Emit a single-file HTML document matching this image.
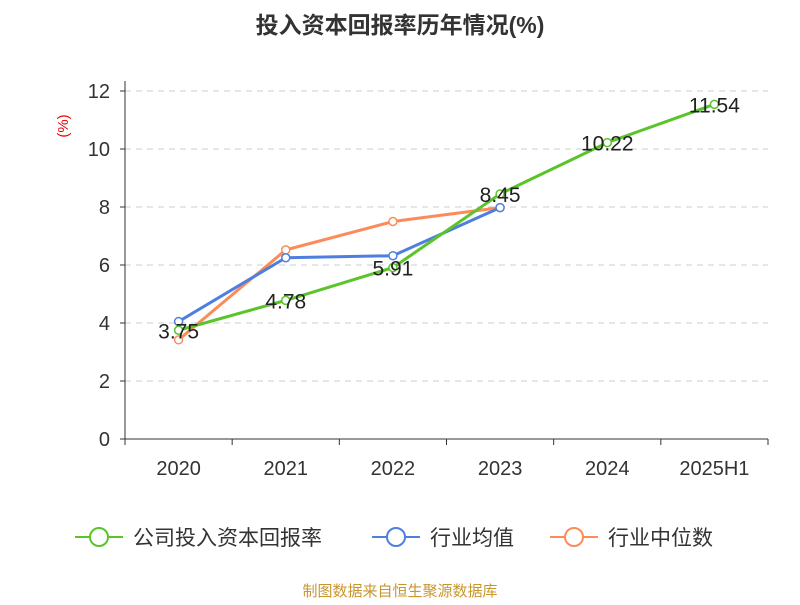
<!DOCTYPE html>
<html><head><meta charset="utf-8"><style>
body{margin:0;background:#fff;font-family:"Liberation Sans","Noto Sans CJK SC",sans-serif;}
svg text{font-family:"Liberation Sans","Noto Sans CJK SC",sans-serif;}
</style></head><body>
<svg width="800" height="600" id="c">
<text x="400" y="33" text-anchor="middle" font-size="23" font-weight="bold" fill="#333">投入资本回报率历年情况(%)</text>
<text x="68" y="126" text-anchor="middle" font-size="15" fill="#e00" transform="rotate(-90 68 126)">(%)</text>
<g id="grid"></g><g id="axes"></g><g id="series"></g><g id="legend"></g>
<text x="400" y="596" text-anchor="middle" font-size="15" fill="#c8962e">制图数据来自恒生聚源数据库</text>
</svg>
<script>
const categories=["2020","2021","2022","2023","2024","2025H1"];
const companyVals=[3.75,4.78,5.91,8.45,10.22,11.54];
const avgVals=[4.05,6.25,6.32,7.98];
const medianVals=[3.42,6.52,7.5,7.98];
const yTicks=[0,2,4,6,8,10,12];
const NS="http://www.w3.org/2000/svg";
const x0=125,x1=768,y0=439,yTop=91;
const bw=(x1-x0)/categories.length;
const X=i=>x0+bw*(i+0.5);
const Y=v=>y0-(v/12)*(y0-yTop);
function mk(t,a,p){const e=document.createElementNS(NS,t);for(const k in a)e.setAttribute(k,a[k]);p.appendChild(e);return e;}
const grid=document.getElementById('grid'),axes=document.getElementById('axes'),ser=document.getElementById('series'),leg=document.getElementById('legend');
yTicks.forEach(v=>{
 if(v>0){const l=mk('line',{x1:x0,x2:x1,y1:Y(v),y2:Y(v),stroke:'#ccc','stroke-dasharray':'6,5'},grid);
 }
 const t=mk('text',{x:x0-15,y:Y(v)+7,'text-anchor':'end','font-size':20,fill:'#333'},axes);t.textContent=v;
 
 const tk=mk('line',{x1:x0-5,x2:x0,y1:Y(v),y2:Y(v),stroke:'#333'},axes);
 
});
const ya=mk('line',{x1:x0,x2:x0,y1:yTop-10,y2:y0,stroke:'#333'},axes);

const xa=mk('line',{x1:x0,x2:x1,y1:y0,y2:y0,stroke:'#333'},axes);

for(let i=0;i<=categories.length;i++){const tk=mk('line',{x1:x0+bw*i,x2:x0+bw*i,y1:y0,y2:y0+6,stroke:'#333'},axes);
 }
categories.forEach((c,i)=>{const t=mk('text',{x:X(i),y:y0+36,'text-anchor':'middle','font-size':20,fill:'#333'},axes);t.textContent=c;
 });
function series(vals,color,name){
 const pl=mk('polyline',{points:vals.map((v,i)=>X(i)+','+Y(v)).join(' '),fill:'none',stroke:color,'stroke-width':3},ser);
 
 vals.forEach((v,i)=>{const c=mk('circle',{cx:X(i),cy:Y(v),r:4,fill:'#fff',stroke:color,'stroke-width':1.5},ser);
  });
}
series(medianVals,'#fb8c5a','industry-median');
series(avgVals,'#4e7fe0','industry-average');
series(companyVals,'#5ac42a','company');
companyVals.forEach((v,i)=>{const t=mk('text',{x:X(i),y:Y(v)+8,'text-anchor':'middle','font-size':21,fill:'#222'},ser);t.textContent=v.toFixed(2);
 });
const items=[["公司投入资本回报率",'#5ac42a',75],["行业均值",'#4e7fe0',372],["行业中位数",'#fb8c5a',550]];
items.forEach(([n,c,x])=>{const g=mk('g',{},leg);
 mk('line',{x1:x,x2:x+48,y1:537,y2:537,stroke:c,'stroke-width':2},g);
 mk('circle',{cx:x+24,cy:537,r:9,fill:'#fff',stroke:c,'stroke-width':2},g);
 const t=mk('text',{x:x+58,y:545,'font-size':21,fill:'#333'},g);t.textContent=n;});
</script>
</body></html>
